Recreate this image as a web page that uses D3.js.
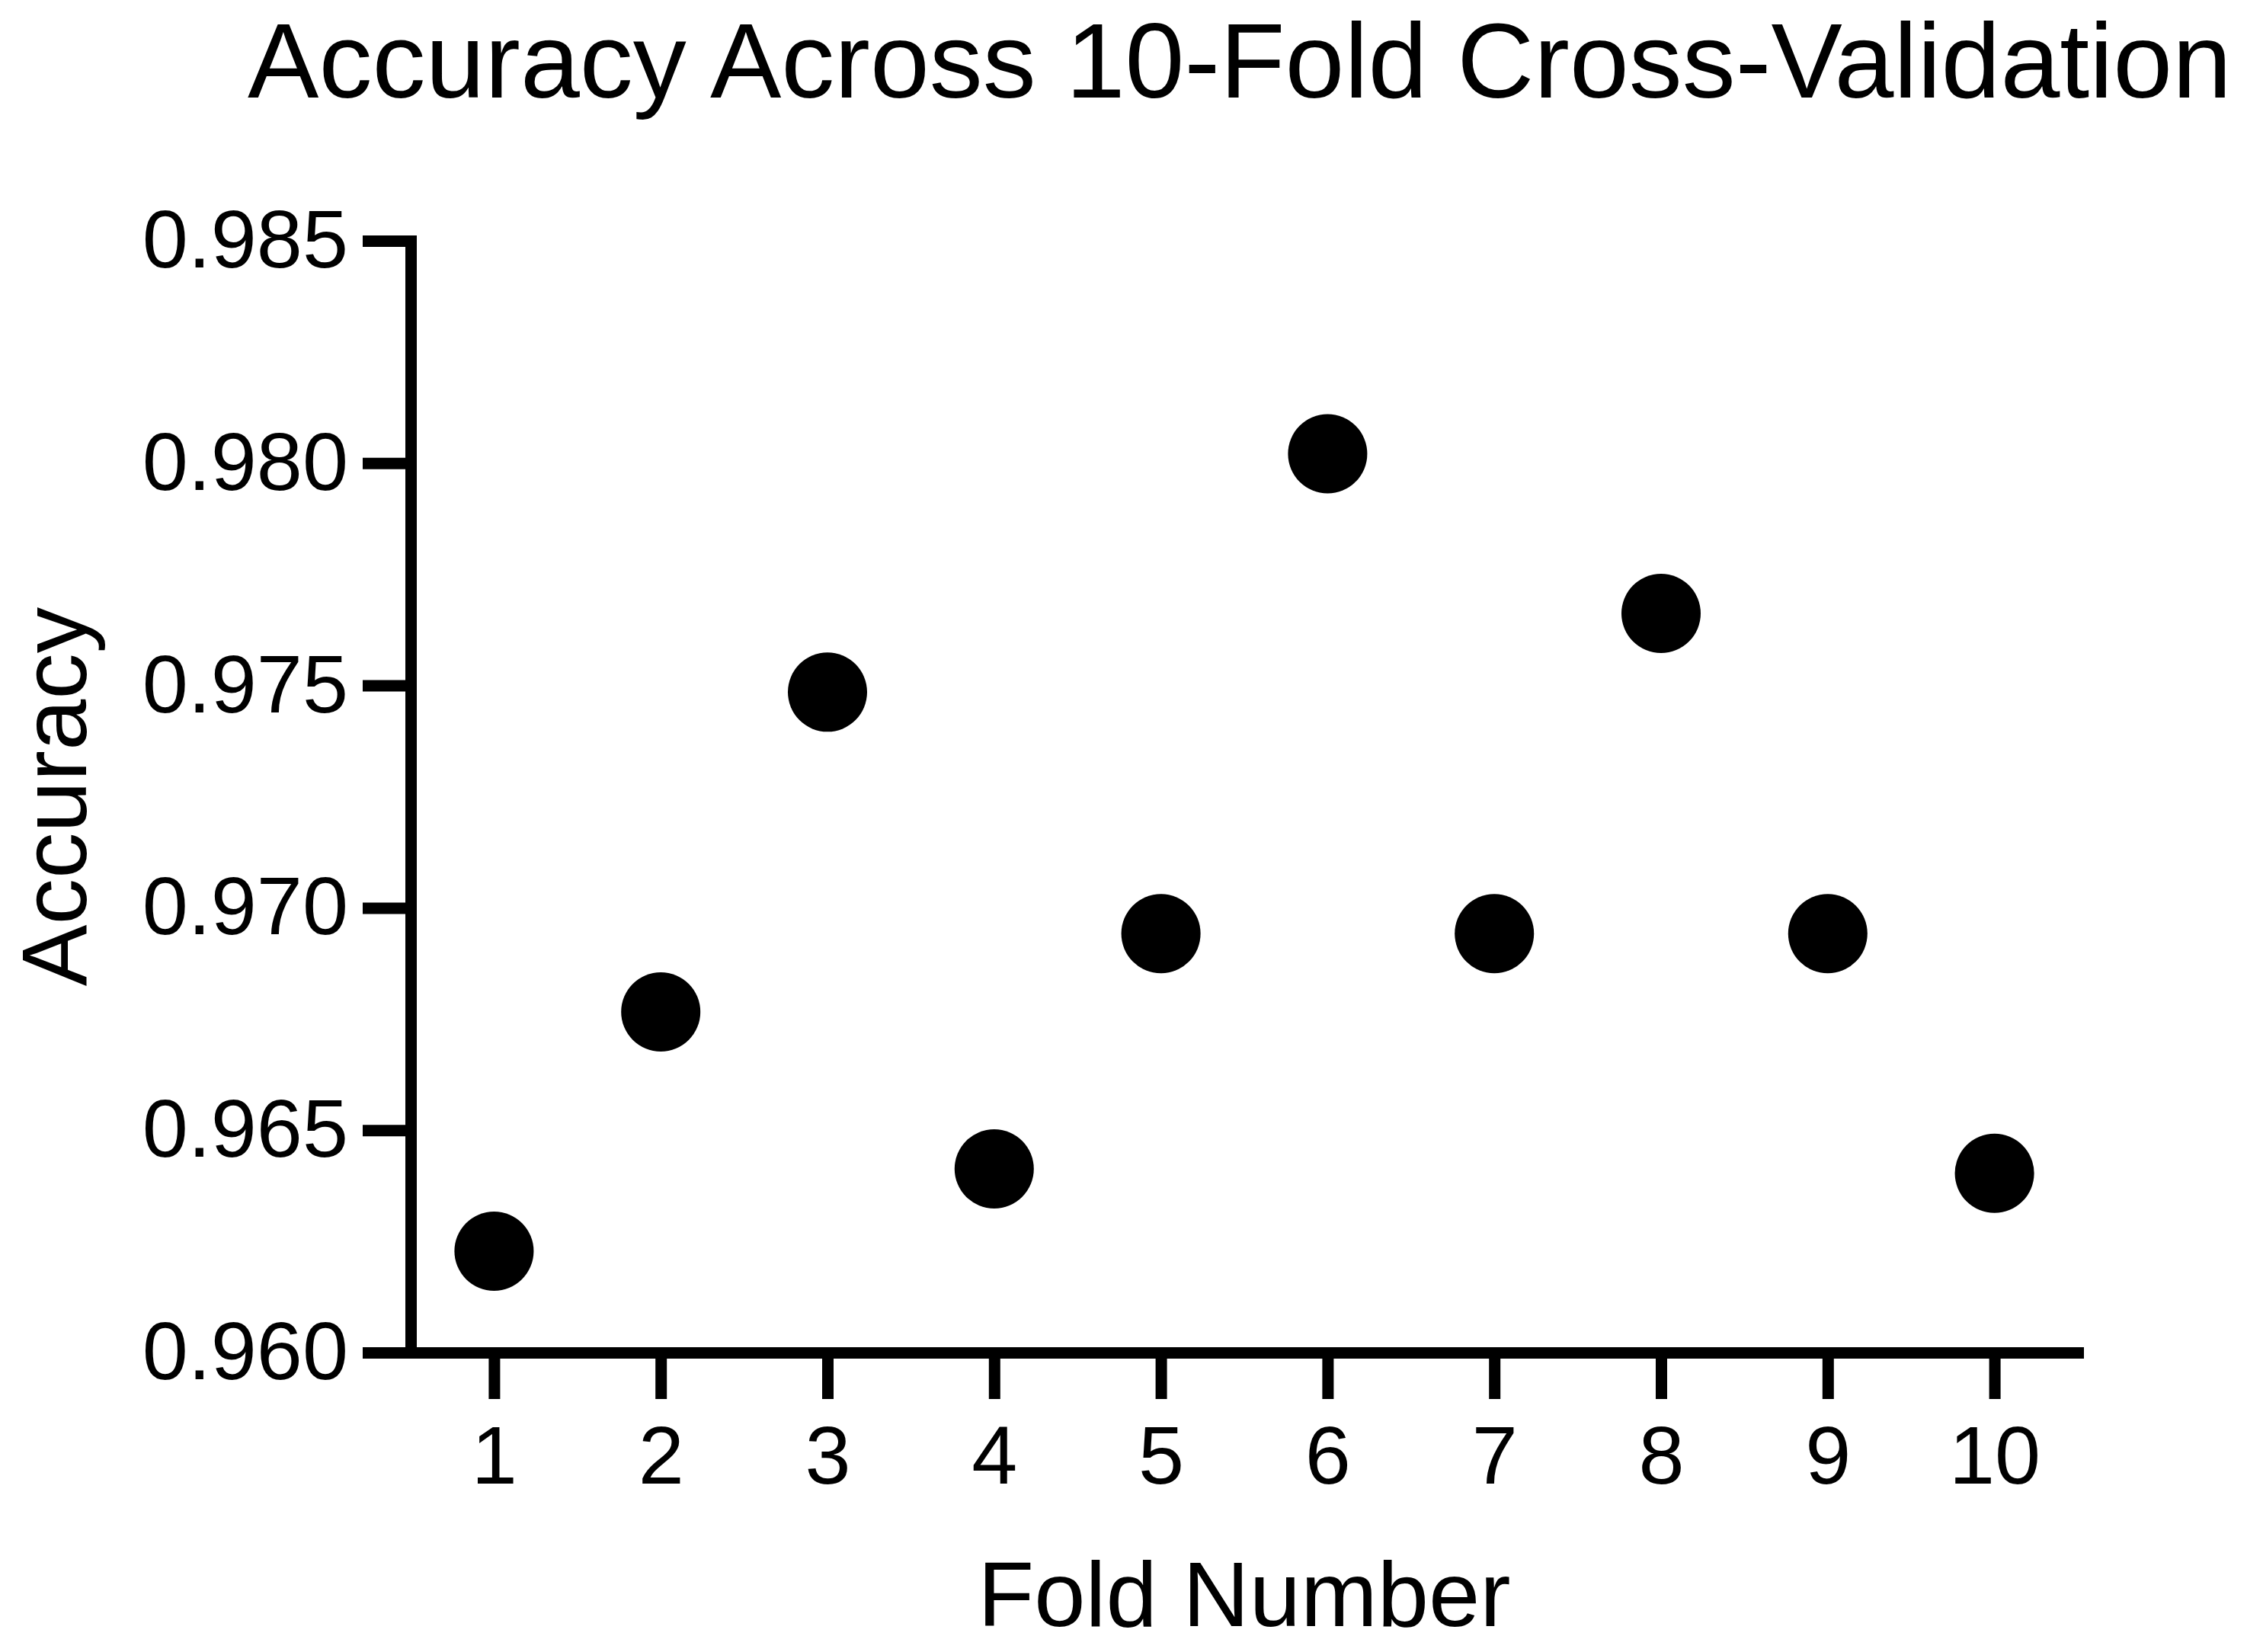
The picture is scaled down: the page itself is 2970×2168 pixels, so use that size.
<!DOCTYPE html>
<html>
<head>
<meta charset="utf-8">
<script src="https://cdn.jsdelivr.net/npm/d3@7"></script>
<style>
  html, body { margin: 0; padding: 0; background: #fff; }
  svg { display: block; }
  text { font-family: "Liberation Sans", Arial, sans-serif; fill: #000; }
</style>
</head>
<body>
<script>
const folds = [1, 2, 3, 4, 5, 6, 7, 8, 9, 10];
const accuracy = [0.96228, 0.96766, 0.97485, 0.96413, 0.96942, 0.98021, 0.96942, 0.97662, 0.96942, 0.96403];
const yTickValues = [0.960, 0.965, 0.970, 0.975, 0.980, 0.985];
const titleText = "Accuracy Across 10-Fold Cross-Validation";
const xLabel = "Fold Number";
const yLabel = "Accuracy";

const W = 2970, H = 2168;
const svg = d3.select("body").append("svg").attr("width", W).attr("height", H);

const x = d3.scaleLinear().domain([0.5, 10.5]).range([539, 2727]);
const y = d3.scaleLinear().domain([0.960, 0.985]).range([1775, 316]);

const strokeW = 15;

// X axis
const gx = svg.append("g").attr("transform", `translate(0,${y(0.960)})`)
  .call(d3.axisBottom(x).tickValues(folds).tickFormat(d3.format("d"))
    .tickSizeInner(61).tickSizeOuter(0).tickPadding(34));
gx.select(".domain").attr("stroke", "#000").attr("stroke-width", strokeW).attr("stroke-linecap", "square");
gx.selectAll(".tick line").attr("stroke", "#000").attr("stroke-width", strokeW);
gx.selectAll(".tick text").attr("font-size", 108).attr("font-family", "Liberation Sans, Arial, sans-serif").attr("fill", "#000");

// Y axis
const gy = svg.append("g").attr("transform", `translate(${x(0.5)},0)`)
  .call(d3.axisLeft(y).tickValues(yTickValues).tickFormat(d3.format(".3f"))
    .tickSizeInner(63).tickSizeOuter(0).tickPadding(19));
gy.select(".domain").attr("stroke", "#000").attr("stroke-width", strokeW).attr("stroke-linecap", "square");
gy.selectAll(".tick line").attr("stroke", "#000").attr("stroke-width", strokeW);
gy.selectAll(".tick text").attr("font-size", 108).attr("font-family", "Liberation Sans, Arial, sans-serif").attr("fill", "#000");

// Points
svg.append("g").selectAll("circle")
  .data(folds.map((f, i) => ({ f, a: accuracy[i] })))
  .join("circle")
  .attr("cx", d => x(d.f))
  .attr("cy", d => y(d.a))
  .attr("r", 52)
  .attr("fill", "#000");

// Title
svg.append("text")
  .attr("x", 1627).attr("y", 128)
  .attr("text-anchor", "middle")
  .attr("font-size", 140)
  .text(titleText);

// X label
svg.append("text")
  .attr("x", (x(0.5) + x(10.5)) / 2).attr("y", 2134)
  .attr("text-anchor", "middle")
  .attr("font-size", 121)
  .text(xLabel);

// Y label
svg.append("text")
  .attr("transform", `translate(113,${(y(0.960) + y(0.985)) / 2}) rotate(-90)`)
  .attr("text-anchor", "middle")
  .attr("font-size", 121)
  .text(yLabel);
</script>
</body>
</html>
